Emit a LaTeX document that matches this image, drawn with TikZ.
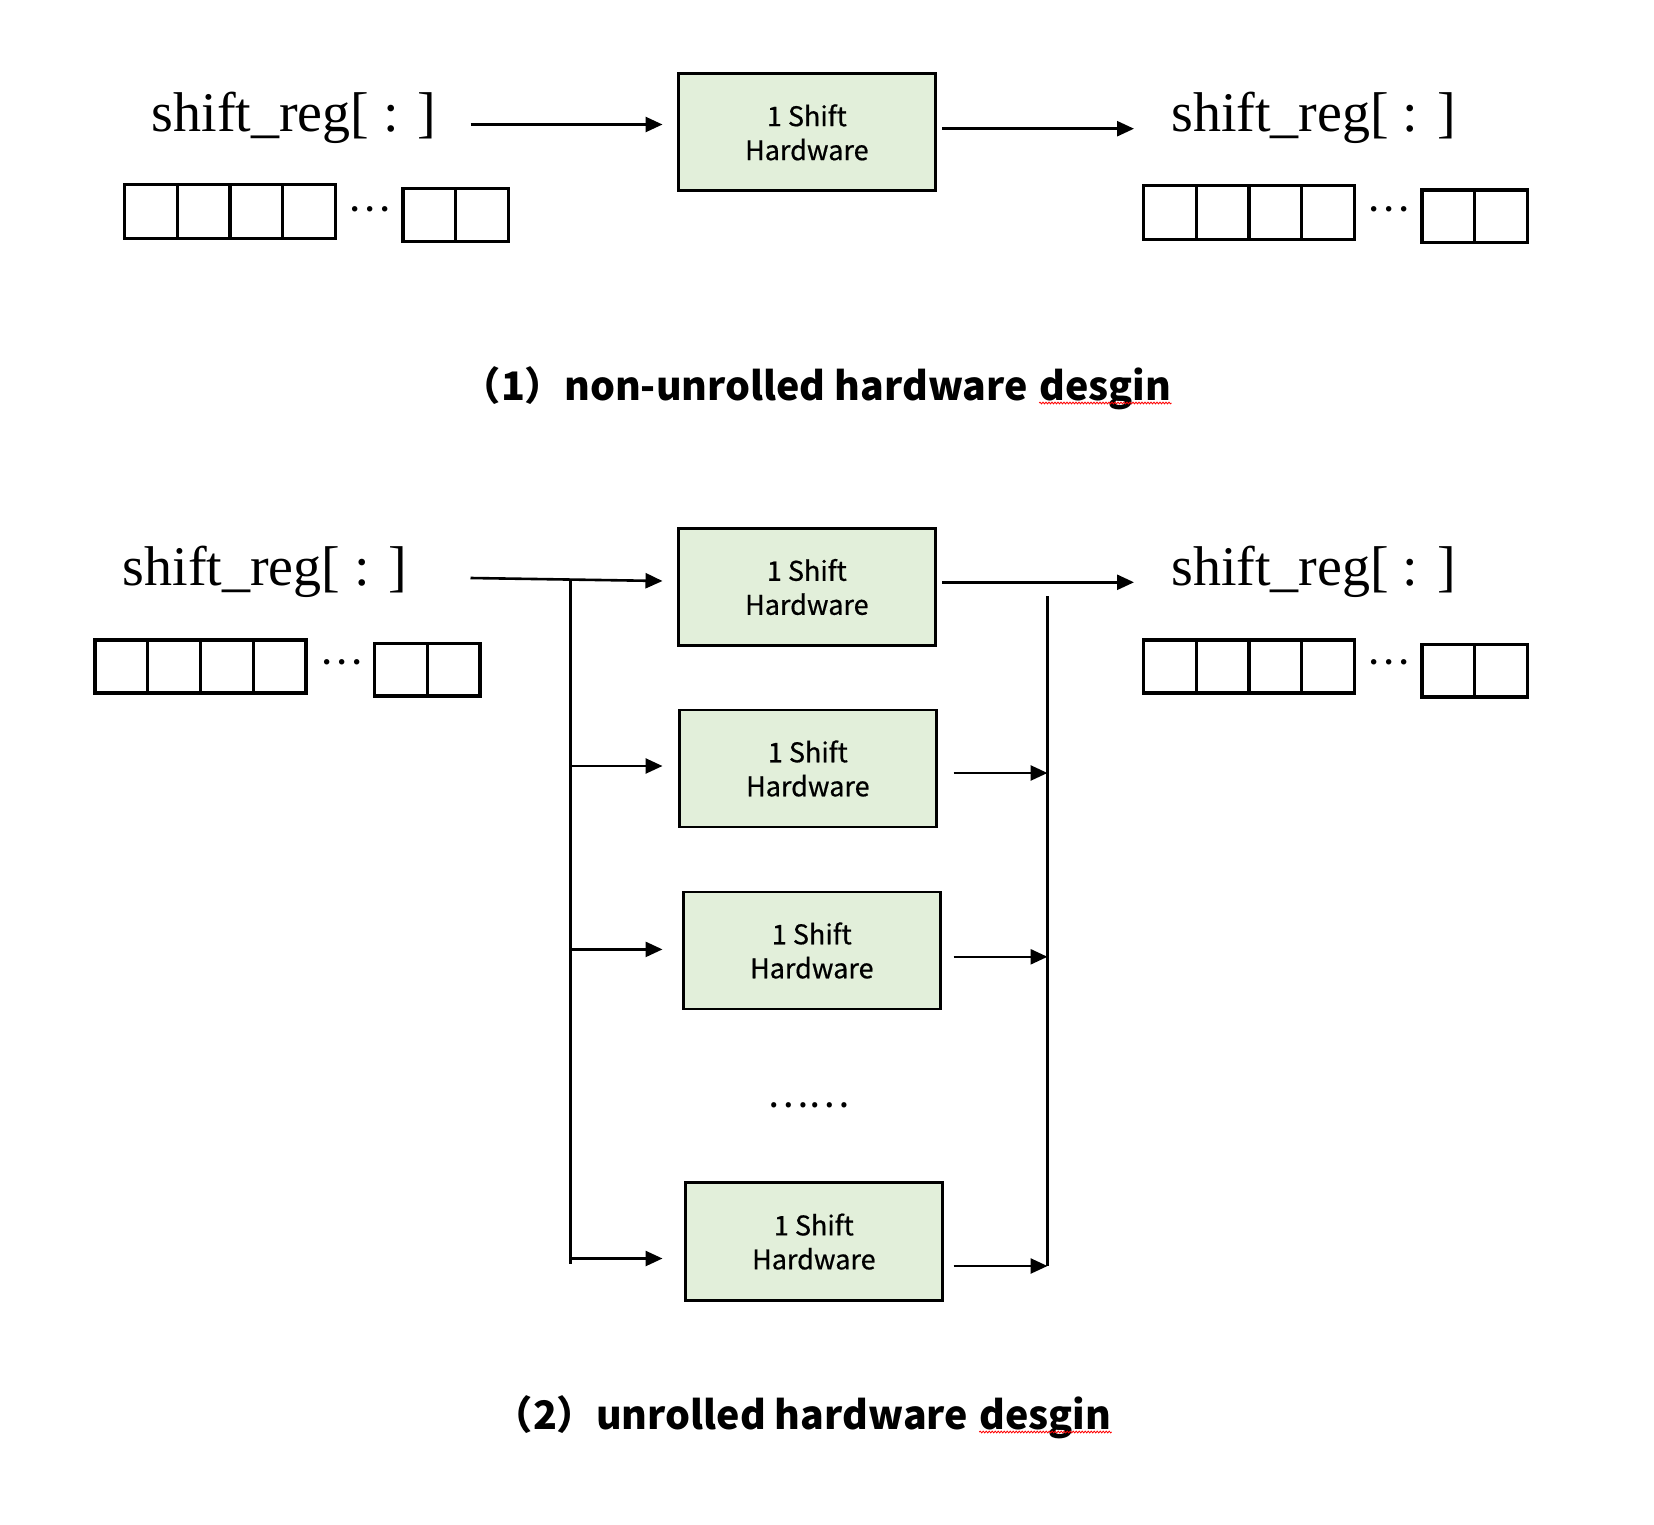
\documentclass[tikz,border=0pt]{standalone}
\usepackage{fontspec}
\setmainfont{Liberation Serif}
\newfontfamily\cjk{Noto Sans CJK SC}
\newfontfamily\cjkm{Noto Sans CJK SC}[FakeBold=0.6]
\usetikzlibrary{arrows.meta,decorations.pathmorphing}
\definecolor{hwgreen}{HTML}{E2EFDA}
\newcommand\regcells[4]{%
  \foreach \k in {1,...,#4}{\draw[regline] ({#1+(\k-1)*52.75},#2) rectangle ({#1+\k*52.75},#3);}}
\begin{document}
\begin{tikzpicture}[x=1pt,y=-1pt,
  regline/.style={line width=3.1pt},
  hw/.style={draw=black, line width=2.9pt, fill=hwgreen, minimum width=257pt, minimum height=117pt,
    align=center, font=\cjkm\fontsize{27}{34}\selectfont, inner sep=0pt},
  lbl/.style={font=\fontsize{56}{60}\selectfont, inner sep=0pt, anchor=base},
  dotsl/.style={font=\fontsize{46}{46}\selectfont, inner sep=0pt},
  arr/.style={line width=2.6pt, -{Triangle[length=17pt,width=15pt]}},
  bus/.style={line width=2.6pt},
  captxt/.style={font=\cjk\bfseries\fontsize{39.3}{48}\selectfont, inner sep=0pt, anchor=base west},
  squig/.style={red, line width=0.8pt, decorate, decoration={snake, amplitude=0.9pt, segment length=3pt}}
]
\useasboundingbox (0,0) rectangle (1654,1525);

% ---------- (1) non-unrolled ----------
\node[lbl] (tinL) at (294,132) {shift\_reg[ : ]};
\node[lbl] (toutR) at (1313.5,132) {shift\_reg[ : ]};
\regcells{124.5}{184.6}{238.4}{4}
\node[dotsl] (tdotsL) at (370,216) {···};
\regcells{403}{188.8}{241.6}{2}
\regcells{1143.5}{185.7}{239.5}{4}
\node[dotsl] (tdotsR) at (1389,216) {···};
\regcells{1422}{190}{242.6}{2}

\node[hw] (top) at (806.85,132.4) {1 Shift\\Hardware};
\coordinate (ta1) at (470.5,124.5);
\coordinate (ta2) at (662.5,124.5);
\coordinate (tb1) at (942,128.7);
\coordinate (tb2) at (1134,128.7);
\draw[arr] (ta1) -- (ta2);
\draw[arr] (tb1) -- (tb2);

\node[captxt] (cap1a) at (461.5,400) {（1）non-unrolled hardware};
\node[captxt] (cap1b) at ([xshift=11pt]cap1a.base east) {desgin};
\draw[squig] ([yshift=-3pt]cap1b.base west) -- ([yshift=-3pt]cap1b.base east);

% ---------- (2) unrolled ----------
\node[lbl] (binL) at (265,585.5) {shift\_reg[ : ]};
\node[lbl] (boutR) at (1313.5,585.5) {shift\_reg[ : ]};
\regcells{95}{640}{693}{4}
\node[dotsl] (bdotsL) at (342,669) {···};
\regcells{374.5}{643.5}{696}{2}
\regcells{1143.5}{640}{693}{4}
\node[dotsl] (bdotsR) at (1389,669) {···};
\regcells{1422}{644.5}{697}{2}

\node[hw] (b1) at (806.85,587) {1 Shift\\Hardware};
\node[hw] (b2) at (807.85,768.5) {1 Shift\\Hardware};
\node[hw] (b3) at (811.8,950.5) {1 Shift\\Hardware};
\node[hw, minimum height=118pt] (b4) at (813.85,1241.6) {1 Shift\\Hardware};
\node[font=\cjk\fontsize{39}{39}\selectfont, inner sep=0pt] (vdots) at (808.6,1105) {……};

% input bus
\coordinate (in1) at (470.5,578);
\coordinate (in2) at (662.5,581);
\coordinate (lbtop) at (570.7,579.5);
\coordinate (lbbot) at (570.7,1264);
\coordinate (l2) at (570.7,766);
\coordinate (l3) at (570.7,949.4);
\coordinate (l4) at (570.7,1258.5);
\draw[arr] (in1) -- (in2);
\draw[bus] (lbtop) -- (lbbot);
\draw[arr] (l2) -- (662.5,766);
\draw[arr] (l3) -- (662.5,949.4);
\draw[arr] (l4) -- (662.5,1258.5);

% output bus
\coordinate (o1a) at (942,582.3);
\coordinate (o1b) at (1134,582.3);
\draw[arr] (o1a) -- (o1b);
\coordinate (rbtop) at (1047.5,596);
\coordinate (rbbot) at (1047.5,1266);
\draw[bus] (rbtop) -- (rbbot);
\coordinate (r2) at (1047.5,773);
\coordinate (r3) at (1047.5,956.8);
\coordinate (r4) at (1047.5,1266);
\draw[arr] (953.6,773) -- (r2);
\draw[arr] (953.6,956.8) -- (r3);
\draw[arr] (953.6,1266) -- (r4);

\node[captxt] (cap2a) at (493.5,1429) {（2）unrolled hardware};
\node[captxt] (cap2b) at ([xshift=11pt]cap2a.base east) {desgin};
\draw[squig] ([yshift=-3pt]cap2b.base west) -- ([yshift=-3pt]cap2b.base east);
\end{tikzpicture}
\end{document}
